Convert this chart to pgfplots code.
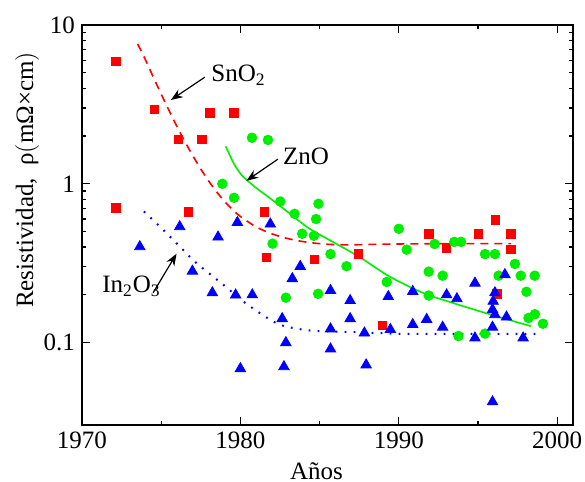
\documentclass[border=0pt]{standalone}
\usepackage{fontspec}
\setmainfont{Liberation Serif}
\usepackage{pgfplots}
\pgfplotsset{compat=1.18}
\usetikzlibrary{arrows.meta}
\definecolor{cred}{RGB}{255,0,0}
\definecolor{cgreen}{RGB}{0,238,0}
\definecolor{cblue}{RGB}{0,0,255}
\begin{document}
\begin{tikzpicture}[font=\fontsize{12.5}{15}\selectfont]
\begin{axis}[
  scale only axis,
  width=245.5pt, height=200pt,
  xmin=1970, xmax=2001,
  ymode=log, ymin=0.0303, ymax=10,
  xtick={1970,1980,1990,2000},
  xticklabels={\rmfamily 1970,\rmfamily 1980,\rmfamily 1990,\rmfamily 2000},
  minor xtick={1975,1985,1995},
  ytick={0.1,1,10},
  yticklabels={\rmfamily 0.1,\rmfamily 1,\rmfamily 10},
  tick align=inside,
  major tick length=4.2pt,
  minor tick length=2.2pt,
  every tick/.style={black, line width=0.6pt},
  axis line style={line width=1pt},
  xlabel={Años},
  ylabel={Resistividad,\ \ ρ\big(mΩ×cm\big)},
  xlabel style={at={(axis description cs:0.4776,-0.115)}, anchor=center},
  ylabel style={at={(axis description cs:-0.112,0.6125)}, anchor=center},
  /pgf/number format/assume math mode=true,
]
% fitted curves
\addplot[cred, line width=0.8pt, dash pattern=on 4pt off 3pt, smooth, mark=none] coordinates {
(1973.51,7.60) (1974.0,6.06) (1974.5,4.70) (1975.0,3.67) (1975.5,2.89) (1976.0,2.29)
(1976.5,1.84) (1977.0,1.50) (1977.5,1.24) (1978.0,1.04) (1978.5,0.89) (1979.0,0.776)
(1979.5,0.689) (1980.0,0.623) (1981.0,0.535) (1982.0,0.484) (1983.0,0.452)
(1984.0,0.432) (1985.0,0.420) (1986.0,0.414) (1987.0,0.413) (1988.0,0.415)
(1990.0,0.418) (1993.0,0.420) (1997.08,0.420)};
\addplot[cgreen, line width=0.8pt, smooth, mark=none] coordinates {
(1979.07,1.722) (1979.6,1.334) (1979.97,1.171) (1980.27,1.087) (1981.0,0.942)
(1982.27,0.757) (1983.74,0.580) (1984.47,0.514) (1986.0,0.422) (1987.52,0.346)
(1989.41,0.261) (1991.51,0.206) (1993.40,0.178) (1995.82,0.150) (1998.34,0.127)};
\addplot[cblue, line width=1pt, dash pattern=on 0.9pt off 3.6pt, smooth, mark=none] coordinates {
(1973.91,0.670) (1975.02,0.526) (1976.07,0.413) (1977.12,0.324) (1978.27,0.261)
(1979.12,0.223) (1980.27,0.179) (1981.85,0.140) (1982.79,0.127) (1984.47,0.119)
(1986.57,0.117) (1988.67,0.115) (1990.77,0.1135) (1998.65,0.1135)};
% SnO2 data
\addplot[only marks, mark=square*, mark size=2.1pt, color=cred] table {
x y
1972.14 5.92
1972.14 0.706
1974.56 2.93
1976.07 1.90
1977.58 1.90
1978.08 2.79
1979.60 2.79
1976.70 0.667
1981.53 0.667
1981.64 0.343
1984.66 0.334
1987.45 0.363
1988.97 0.1285
1991.89 0.485
1995.04 0.485
1997.08 0.485
1993.02 0.396
1997.08 0.385
1996.09 0.594
1996.19 0.203
};
% ZnO data
\addplot[only marks, mark=*, mark size=2.4pt, color=cgreen] table {
x y
1978.86 1.00
1979.60 0.817
1980.73 1.95
1981.74 1.89
1982.52 0.774
1983.42 0.647
1984.93 0.749
1984.78 0.600
1983.90 0.485
1984.64 0.471
1982.03 0.420
1985.69 0.361
1986.70 0.303
1982.87 0.192
1984.91 0.203
1989.24 0.241
1990.00 0.521
1990.50 0.385
1992.26 0.418
1993.50 0.431
1993.93 0.431
1995.44 0.361
1996.07 0.361
1997.33 0.313
1991.89 0.280
1992.77 0.264
1996.30 0.264
1997.70 0.264
1998.58 0.264
1998.06 0.209
1991.89 0.198
1998.19 0.143
1998.59 0.151
1999.10 0.1315
1993.77 0.110
1995.44 0.114
};
% In2O3 data
\addplot[only marks, mark=triangle*, mark size=3pt, color=cblue] table {
x y
1973.65 0.402
1976.17 0.537
1978.59 0.462
1979.81 0.571
1981.89 0.558
1976.97 0.282
1978.23 0.206
1979.70 0.1995
1980.75 0.200
1980.00 0.0686
1983.78 0.302
1983.28 0.253
1982.64 0.1416
1982.87 0.100
1982.75 0.0706
1985.69 0.213
1986.93 0.184
1986.93 0.1416
1985.69 0.122
1985.69 0.0912
1987.83 0.115
1987.94 0.0724
1989.34 0.195
1989.47 0.121
1990.88 0.210
1990.88 0.130
1991.76 0.140
1992.77 0.125
1993.02 0.200
1993.67 0.189
1994.81 0.237
1994.81 0.107
1996.07 0.206
1995.96 0.182
1995.92 0.1614
1996.07 0.150
1996.80 0.145
1996.70 0.268
1995.92 0.125
1997.85 0.107
1995.92 0.0424
};
% annotations
\node[anchor=base west, inner sep=0pt] at (axis cs:1978.15,4.40) {SnO\textsubscript{2}};
\draw[line width=0.6pt, -{Stealth[length=6pt,width=4.5pt]}] (axis cs:1977.75,4.69) -- (axis cs:1975.61,3.37);
\node[anchor=base west, inner sep=0pt] at (axis cs:1982.67,1.32) {ZnO};
\draw[line width=0.6pt, -{Stealth[length=6pt,width=4.5pt]}] (axis cs:1982.37,1.43) -- (axis cs:1980.38,1.045);
\node[anchor=base west, inner sep=0pt] at (axis cs:1971.26,0.206) {In\textsubscript{2}O\textsubscript{3}};
\draw[line width=0.6pt, -{Stealth[length=6pt,width=4.5pt]}] (axis cs:1974.49,0.206) -- (axis cs:1975.97,0.363);
\coordinate (SW) at (rel axis cs:0,0);
\coordinate (NE) at (rel axis cs:1,1);
\end{axis}
\pgfresetboundingbox
\path ([xshift=-41pt,yshift=-28.5pt]SW) rectangle ([xshift=6pt,yshift=12.5pt]NE);
\end{tikzpicture}
\end{document}
